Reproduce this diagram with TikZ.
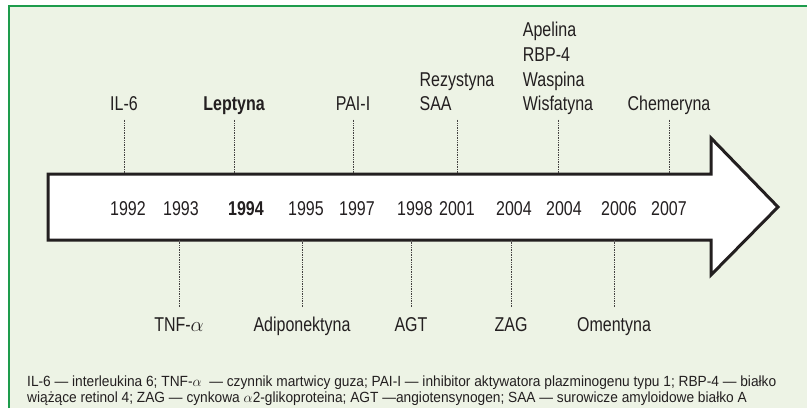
\documentclass[tikz,border=0pt]{standalone}
\usepackage{fontspec}
\setmainfont[FakeStretch=0.8]{Liberation Sans}
\newfontfamily\notefont[FakeStretch=0.93]{Liberation Sans}
\definecolor{panelbg}{HTML}{EDF3E5}
\definecolor{panelline}{HTML}{1E9C4C}
\definecolor{ink}{HTML}{231F20}
\begin{document}
\begin{tikzpicture}[x=1pt,y=-1pt,
  lbl/.style={font=\fontsize{20}{24.7}\selectfont, inner sep=0pt, anchor=base, text=ink},
  mlbl/.style={lbl, align=left},
  yr/.style={font=\fontsize{20}{24}\selectfont, inner sep=0pt, anchor=base, text=ink},
  dotline/.style={densely dotted, line width=0.7pt, draw=ink!85},
  note/.style={font=\notefont\fontsize{14.75}{15.5}\selectfont, inner sep=0pt, anchor=base west, text=ink}]
\useasboundingbox (0,0) rectangle (807,408);
% panel
\fill[panelbg] (9,6) rectangle (807,408);
\draw[panelline, line width=1.6pt] (9,408) -- (9,6) -- (807,6);
% arrow
\draw[ink, line width=3pt, fill=white, line join=miter]
  (48,174) -- (711,174) -- (711,138) -- (778,207) -- (711,275) -- (711,240) -- (48,240) -- cycle;
\coordinate (top) at (0,174);
\coordinate (bot) at (0,240);
% years
\node[yr] (y1992) at (128,215) {1992};
\node[yr] (y1993) at (181,215) {1993};
\node[yr, font=\fontsize{20}{24}\selectfont\bfseries] (y1994) at (246,215) {1994};
\node[yr] (y1995) at (306,215) {1995};
\node[yr] (y1997) at (357,215) {1997};
\node[yr] (y1998) at (415,215) {1998};
\node[yr] (y2001) at (457,215) {2001};
\node[yr] (y2004a) at (514,215) {2004};
\node[yr] (y2004b) at (564,215) {2004};
\node[yr] (y2006) at (619,215) {2006};
\node[yr] (y2007) at (669,215) {2007};
% labels above
\node[lbl] (il6) at (124,110.7) {IL-6};
\node[lbl, font=\fontsize{20}{24}\selectfont\bfseries] (lep) at (234,110.7) {Leptyna};
\node[lbl] (pai) at (353,110.7) {PAI-I};
\node[mlbl] (rez) at (457,110.7) {Rezystyna\\SAA};
\node[mlbl] (ape) at (558,110.7) {Apelina\\RBP-4\\Waspina\\Wisfatyna};
\node[lbl] (che) at (669,110.7) {Chemeryna};
\foreach \n in {il6,lep,pai,rez,ape,che}
  \draw[dotline] ([yshift=-9pt]\n.base) -- (\n.base |- top);
% labels below
\node[lbl] (tnf) at (179,331.5) {TNF-$\alpha$};
\node[lbl] (adi) at (302,331.5) {Adiponektyna};
\node[lbl] (agt) at (411,331.5) {AGT};
\node[lbl] (zag) at (511,331.5) {ZAG};
\node[lbl] (ome) at (614,331.5) {Omentyna};
\foreach \n in {tnf,adi,agt,zag,ome}
  \draw[dotline] (\n.base |- bot) -- (\n.base |- 0,307);
% note
\node[note] (note1) at (27,386.5) {IL-6 — interleukina 6; TNF-$\alpha$\ \ — czynnik martwicy guza; PAI-I — inhibitor aktywatora plazminogenu typu 1; RBP-4 — białko};
\node[note] (note2) at (27,402) {wiążące retinol 4; ZAG — cynkowa $\alpha$2-glikoproteina; AGT —angiotensynogen; SAA — surowicze amyloidowe białko A};
\end{tikzpicture}
\end{document}
